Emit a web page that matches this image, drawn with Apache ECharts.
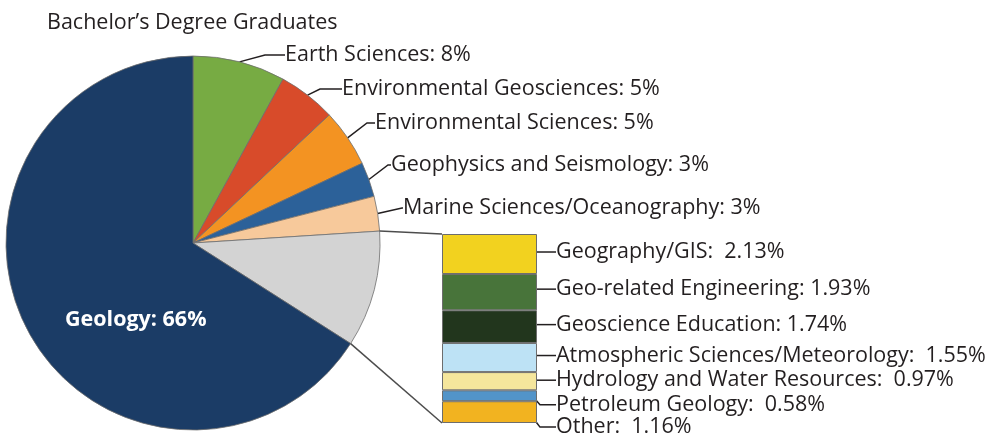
<!DOCTYPE html>
<html><head><meta charset="utf-8">
<script src="https://cdn.jsdelivr.net/npm/echarts@6/dist/echarts.min.js"></script>
<style>html,body{margin:0;padding:0;background:#fff}#c{width:998px;height:434px}</style>
</head><body><div id="c"></div>
<script>
// ---------- data ----------
const chartTitle = 'Bachelor’s Degree Graduates';
const mainNames = ['Earth Sciences', 'Environmental Geosciences', 'Environmental Sciences', 'Geophysics and Seismology', 'Marine Sciences/Oceanography'];
const mainValues = [8, 5, 5, 3, 3];
const geologyName = 'Geology';
const geologyValue = 66;
const barNames = ['Geography/GIS', 'Geo-related Engineering', 'Geoscience Education', 'Atmospheric Sciences/Meteorology', 'Hydrology and Water Resources', 'Petroleum Geology', 'Other'];
const barValues = [2.13, 1.93, 1.74, 1.55, 0.97, 0.58, 1.16];
const barGaps = ['  ', ' ', ' ', '  ', '  ', '  ', '  '];

// ---------- styles / layout ----------
const FONT = 'Open Sans';
const FS = 21.5;
const TXT = '#231f20';
const mainColors = ['#77ab43', '#d84b2a', '#f39322', '#2c6199', '#f7c99b'];
const otherColor = '#d3d3d3';
const geologyColor = '#1b3c66';
const barColors = ['#f2d21f', '#48743a', '#22361d', '#bde2f5', '#f5e69c', '#5294c9', '#f2b320'];
const pieCenter = [193, 243];
const pieRadius = 187;
const pieLabelPos = [[285, 55], [342, 89], [375, 123], [391, 165], [403, 208]];
const pieLabelLen2 = [20, 22, 8, 3, 1];
const geologyLabelPos = [65, 320];
const barGrid = { left: 442, top: 234, width: 95, height: 189 };
const barLabelGap = 19;
const barLabelDy = [-2, -3, -2, -2, -1, 9, 15];

const otherSum = barValues.reduce((a, b) => a + b, 0);
const mainSum = mainValues.reduce((a, b) => a + b, 0);
const total = mainSum + otherSum + geologyValue;

const pieData = mainNames.map((n, i) => ({
  name: n, value: mainValues[i],
  itemStyle: { color: mainColors[i] },
  labelLine: { length2: pieLabelLen2[i] }
}));
pieData.push({ name: 'Other', value: +otherSum.toFixed(2), itemStyle: { color: otherColor }, label: { show: false }, labelLine: { show: false } });
pieData.push({ name: geologyName, value: geologyValue, itemStyle: { color: geologyColor },
  label: { position: 'inside', color: '#fff', fontWeight: 'bold' }, labelLine: { show: false } });

const barSeries = barNames.map((n, i) => ({
  type: 'bar', name: n, stack: 'sub', data: [barValues[i]],
  barWidth: '100%',
  itemStyle: { color: barColors[i], borderColor: '#6d6d6d', borderWidth: 1 },
  label: {
    show: true, position: 'right', color: TXT, fontFamily: FONT, fontSize: FS,
    formatter: () => n + ':' + barGaps[i] + barValues[i].toFixed(2) + '%'
  },
  labelLine: { show: true, length2: 16, lineStyle: { color: TXT, width: 1.5 } },
  labelLayout: (p) => ({
    x: p.rect.x + p.rect.width + barLabelGap,
    y: p.rect.y + p.rect.height / 2 + barLabelDy[i],
    align: 'left', verticalAlign: 'middle'
  }),
  silent: true, animation: false
}));

const chart = echarts.init(document.getElementById('c'), null, { renderer: 'canvas' });
chart.setOption({
  animation: false,
  backgroundColor: '#fff',
  title: { text: chartTitle, left: 42, top: 7, textStyle: { fontFamily: FONT, fontSize: FS, fontWeight: 'normal', color: TXT } },
  grid: { left: barGrid.left, top: barGrid.top, width: barGrid.width, height: barGrid.height },
  xAxis: { type: 'category', data: [''], show: false },
  yAxis: { type: 'value', min: 0, max: otherSum, inverse: true, show: false },
  series: [{
    type: 'pie', center: pieCenter, radius: pieRadius, startAngle: 90, clockwise: true,
    avoidLabelOverlap: false, animation: false, silent: true,
    itemStyle: { borderColor: '#6d6d6d', borderWidth: 0.8 },
    label: { show: true, position: 'outside', formatter: '{b}: {c}%', color: TXT, fontFamily: FONT, fontSize: FS },
    labelLine: { show: true, length: 6, length2: 20, smooth: false, lineStyle: { color: TXT, width: 1.5 } },
    labelLayout: (p) => {
      const i = p.dataIndex;
      if (i < pieLabelPos.length) return { x: pieLabelPos[i][0], y: pieLabelPos[i][1], align: 'left', verticalAlign: 'middle' };
      if (i === pieData.length - 1) return { x: geologyLabelPos[0], y: geologyLabelPos[1], align: 'left', verticalAlign: 'middle' };
      return {};
    },
    data: pieData
  }].concat(barSeries)
});

// connector lines from the "other" pie slice to the breakdown bar
function piePoint(fraction) {
  const a = fraction * 2 * Math.PI;
  return [pieCenter[0] + pieRadius * Math.sin(a), pieCenter[1] - pieRadius * Math.cos(a)];
}
const pStart = piePoint(mainSum / total);
const pEnd = piePoint((mainSum + otherSum) / total);
const yTop = chart.convertToPixel({ yAxisIndex: 0 }, 0);
const yBot = chart.convertToPixel({ yAxisIndex: 0 }, otherSum);
chart.setOption({
  graphic: [
    { type: 'line', shape: { x1: pStart[0], y1: pStart[1], x2: barGrid.left, y2: yTop }, style: { stroke: '#4d4d4d', lineWidth: 1.5 }, z: 10 },
    { type: 'line', shape: { x1: pEnd[0], y1: pEnd[1], x2: barGrid.left, y2: yBot }, style: { stroke: '#4d4d4d', lineWidth: 1.5 }, z: 10 }
  ]
});
</script></body></html>
